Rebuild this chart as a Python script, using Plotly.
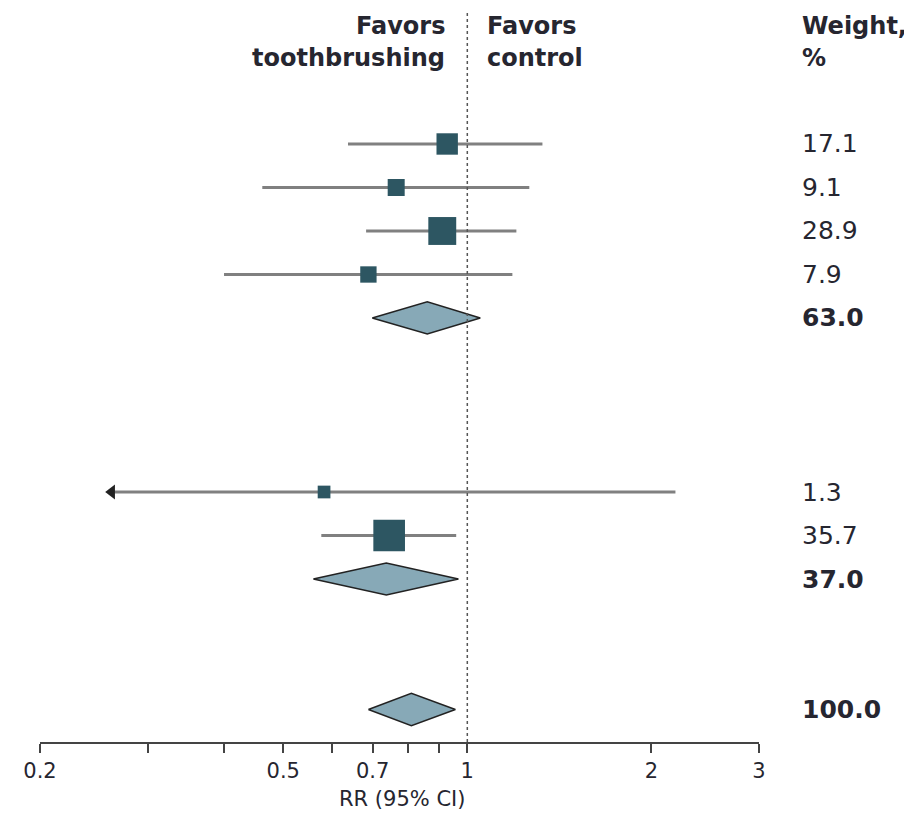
import plotly.graph_objects as go

# ---- data ----
study_rr = [0.927, 0.765, 0.910, 0.689, 0.583, 0.745]
study_lo = [0.638, 0.462, 0.683, 0.400, 0.262, 0.577]
study_hi = [1.327, 1.263, 1.203, 1.185, 2.19, 0.959]
study_weight = [17.1, 9.1, 28.9, 7.9, 1.3, 35.7]
study_truncated_low = [False, False, False, False, True, False]

pooled_rr = [0.860, 0.737, 0.810]
pooled_lo = [0.699, 0.560, 0.689]
pooled_hi = [1.05, 0.967, 0.956]
pooled_weight = [63.0, 37.0, 100.0]

tick_vals = [0.2, 0.3, 0.4, 0.5, 0.6, 0.7, 0.8, 0.9, 1, 2, 3]
tick_text = ["0.2", "", "", "0.5", "", "0.7", "", "", "1", "2", "3"]
x_title = "RR (95% CI)"

# ---- layout rows ----
study_rows = [0, 1, 2, 3, 8, 9]
pooled_rows = [4, 10, 13]

FONT = "DejaVu Sans"
TXT = "#262630"
SQ = "#2d5662"
CI = "#808080"
DIA = "#87a9b7"

fig = go.Figure()

# CI lines
for r, lo, hi in zip(study_rows, study_lo, study_hi):
    fig.add_trace(go.Scatter(x=[lo, hi], y=[r, r], mode="lines",
                             line=dict(color=CI, width=3), hoverinfo="skip", showlegend=False))

# arrow for truncated lower CI
fig.add_trace(go.Scatter(
    x=[lo for lo, t in zip(study_lo, study_truncated_low) if t],
    y=[r for r, t in zip(study_rows, study_truncated_low) if t],
    mode="markers", marker=dict(symbol="triangle-left", size=13, color="#222222", opacity=1),
    hoverinfo="skip", showlegend=False))

# squares
fig.add_trace(go.Scatter(
    x=study_rr, y=study_rows, mode="markers",
    marker=dict(symbol="square", color=SQ, opacity=1,
                size=[12 + 0.55 * w for w in study_weight],
                line=dict(width=0)),
    showlegend=False))

# diamonds
h = 0.37
for r, e, lo, hi in zip(pooled_rows, pooled_rr, pooled_lo, pooled_hi):
    fig.add_trace(go.Scatter(x=[lo, e, hi, e, lo], y=[r, r - h, r, r + h, r],
                             mode="lines", fill="toself", fillcolor=DIA,
                             line=dict(color="#222222", width=1.5),
                             hoverinfo="skip", showlegend=False))

# reference line at 1
fig.add_shape(type="line", x0=1, x1=1, xref="x", y0=0, y1=0.997, yref="paper",
              line=dict(color="#555555", width=1.5, dash="dot"))

# weights
WX = 1.057
for r, w in zip(study_rows, study_weight):
    fig.add_annotation(x=WX, xref="paper", y=r, yref="y", text=f"{w:.1f}",
                       showarrow=False, xanchor="left", yanchor="middle",
                       font=dict(family=FONT, size=25, color=TXT))
for r, w in zip(pooled_rows, pooled_weight):
    fig.add_annotation(x=WX, xref="paper", y=r, yref="y", text=f"<b>{w:.1f}</b>",
                       showarrow=False, xanchor="left", yanchor="middle",
                       font=dict(family=FONT, size=25, color=TXT))

# headers
hdr = dict(family=FONT, size=24, color=TXT)
Y1, Y2 = 0.978, 0.934
for txt, yy in [("<b>Favors</b>", Y1), ("<b>toothbrushing</b>", Y2)]:
    fig.add_annotation(x=0.566, xref="paper", y=yy, yref="paper", text=txt, showarrow=False,
                       xanchor="right", yanchor="middle", font=hdr)
for txt, yy in [("<b>Favors</b>", Y1), ("<b>control</b>", Y2)]:
    fig.add_annotation(x=0.619, xref="paper", y=yy, yref="paper", text=txt, showarrow=False,
                       xanchor="left", yanchor="middle", font=hdr)
for txt, yy in [("<b>Weight,</b>", Y1), ("<b>%</b>", Y2)]:
    fig.add_annotation(x=WX, xref="paper", y=yy, yref="paper", text=txt, showarrow=False,
                       xanchor="left", yanchor="middle", font=hdr)

# x-axis title
fig.add_annotation(x=0.503, xref="paper", y=-0.0785, yref="paper", text=x_title, showarrow=False,
                   xanchor="center", yanchor="middle",
                   font=dict(family=FONT, size=21, color=TXT))

fig.update_layout(
    width=912, height=814,
    margin=dict(l=32, r=161, t=2, b=80),
    paper_bgcolor="white", plot_bgcolor="white",
    font=dict(family=FONT, color=TXT),
    xaxis=dict(type="log", range=[-0.69897, 0.47712], tickvals=tick_vals, ticktext=tick_text,
               ticks="outside", ticklen=9, tickwidth=1.5, tickcolor="#444444",
               showline=True, linecolor="#444444", linewidth=2, showgrid=False,
               zeroline=False, tickfont=dict(family=FONT, size=21, color=TXT)),
    yaxis=dict(range=[13.747, -3.08], visible=False, showgrid=False, zeroline=False),
)

fig.write_html("out.html")
